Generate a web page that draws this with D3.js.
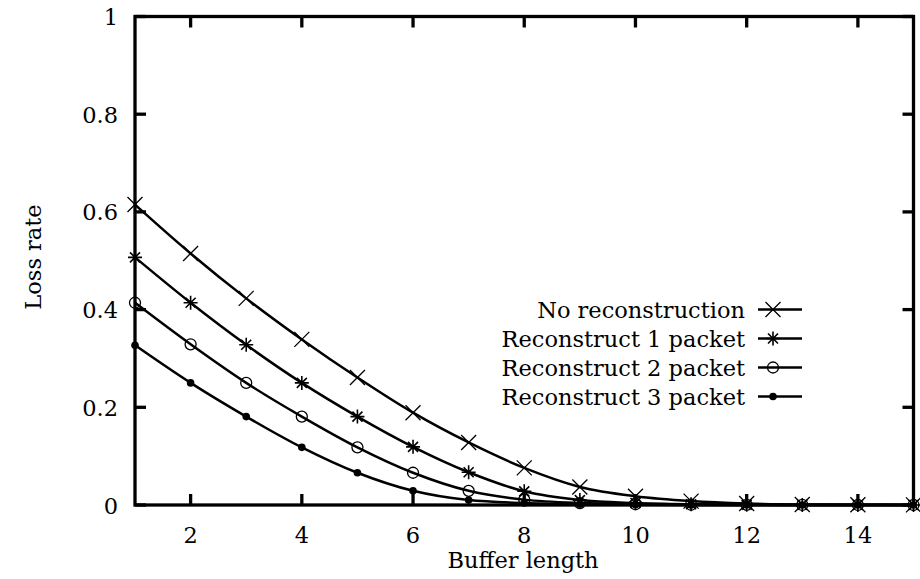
<html>
<head>
<meta charset="utf-8">
<title>Loss rate vs buffer length</title>
<script src="https://d3js.org/d3.v7.min.js"></script>
<style>
body { margin: 0; background: white; }
text { font-family: "DejaVu Serif", "Liberation Serif", serif; font-size: 22.5px; fill: black; }
</style>
</head>
<body>
<svg width="920" height="579"></svg>
<script>
// data
var bufferLen = [1,2,3,4,5,6,7,8,9,10,11,12,13,14,15];
var noRecon = [0.615,0.515,0.423,0.339,0.261,0.189,0.128,0.076,0.037,0.018,0.008,0.003,0.001,0.0005,0.0002];
var recon1 = [0.507,0.414,0.328,0.250,0.181,0.119,0.067,0.028,0.010,0.004,0.0015,0.0005,0.0002,0.0001,0];
var recon2 = [0.414,0.329,0.250,0.181,0.118,0.066,0.029,0.011,0.004,0.0015,0.0005,0.0002,0.0001,0,0];
var recon3 = [0.327,0.250,0.181,0.118,0.066,0.029,0.010,0.004,0.0015,0.0005,0.0002,0.0001,0,0,0];
var seriesNames = ["No reconstruction","Reconstruct 1 packet","Reconstruct 2 packet","Reconstruct 3 packet"];
var xTicks = [2,4,6,8,10,12,14];
var yTicks = [0,0.2,0.4,0.6,0.8,1];

var svg = d3.select("svg");
var pLeft = 135, pRight = 913.5, pTop = 16.5, pBottom = 505;
var x = d3.scaleLinear().domain([1,15]).range([pLeft,pRight]);
var y = d3.scaleLinear().domain([0,1]).range([pBottom,pTop]);

var series = [noRecon, recon1, recon2, recon3];
var kinds = ["x","star","circle","dot"];

// curves
var line = d3.line()
  .x(function(d,i){ return x(bufferLen[i]); })
  .y(function(d){ return y(d); })
  .curve(d3.curveMonotoneX);

var plot = svg.append("g");
series.forEach(function(s){
  plot.append("path").attr("d", line(s))
    .attr("fill","none").attr("stroke","black").attr("stroke-width",2.5);
});

function marker(g, kind, cx, cy) {
  var m = g.append("g").attr("transform","translate("+cx+","+cy+")");
  var st = function(sel){ return sel.attr("stroke","black").attr("stroke-width",1.3).attr("fill","none"); };
  if (kind == "x") {
    st(m.append("path").attr("d","M-7.5,-7.5L7.5,7.5M-7.5,7.5L7.5,-7.5"));
  } else if (kind == "star") {
    st(m.append("path").attr("d","M-7,0L7,0M0,-7L0,7M-5,-5L5,5M-5,5L5,-5")).attr("stroke-width",1.6);
  } else if (kind == "circle") {
    st(m.append("circle").attr("r",5.5));
  } else {
    m.append("circle").attr("r",3.8).attr("fill","black");
  }
}

series.forEach(function(s,k){
  s.forEach(function(v,i){ marker(plot, kinds[k], x(bufferLen[i]), y(v)); });
});

// frame and ticks (mirrored on all sides, pointing inward)
var tl = 11;
var axes = svg.append("g").attr("stroke","black").attr("stroke-width",3.3);
xTicks.forEach(function(t){
  axes.append("line").attr("x1",x(t)).attr("x2",x(t)).attr("y1",pBottom).attr("y2",pBottom-tl);
  axes.append("line").attr("x1",x(t)).attr("x2",x(t)).attr("y1",pTop).attr("y2",pTop+tl);
});
yTicks.forEach(function(t){
  axes.append("line").attr("x1",pLeft).attr("x2",pLeft+tl).attr("y1",y(t)).attr("y2",y(t));
  axes.append("line").attr("x1",pRight).attr("x2",pRight-tl).attr("y1",y(t)).attr("y2",y(t));
});
axes.append("rect").attr("x",pLeft).attr("y",pTop).attr("width",pRight-pLeft).attr("height",pBottom-pTop)
  .attr("fill","none");

// tick labels
svg.selectAll(".xl").data(xTicks).enter().append("text")
  .attr("x", function(d){ return x(d); }).attr("y", 543)
  .attr("text-anchor","middle").text(function(d){ return d; });
svg.selectAll(".yl").data(yTicks).enter().append("text")
  .attr("x", 118).attr("y", function(d){ return y(d) + 8.5; })
  .attr("text-anchor","end").text(function(d){ return d; });

// axis titles
svg.append("text").attr("x",523).attr("y",568).attr("text-anchor","middle")
  .text("Buffer length");
svg.append("text").attr("transform","translate(41,257) rotate(-90)").attr("text-anchor","middle")
  .text("Loss rate");

// legend
var legY = [309.5,338.5,367.5,396.5];
var leg = svg.append("g");
seriesNames.forEach(function(n,k){
  leg.append("text").attr("x",745).attr("y",legY[k]+8.5).attr("text-anchor","end")
    .text(n);
  leg.append("line").attr("x1",758).attr("x2",802).attr("y1",legY[k]).attr("y2",legY[k])
    .attr("stroke","black").attr("stroke-width",2.5);
  marker(leg, kinds[k], 773, legY[k]);
});
</script>
</body>
</html>
